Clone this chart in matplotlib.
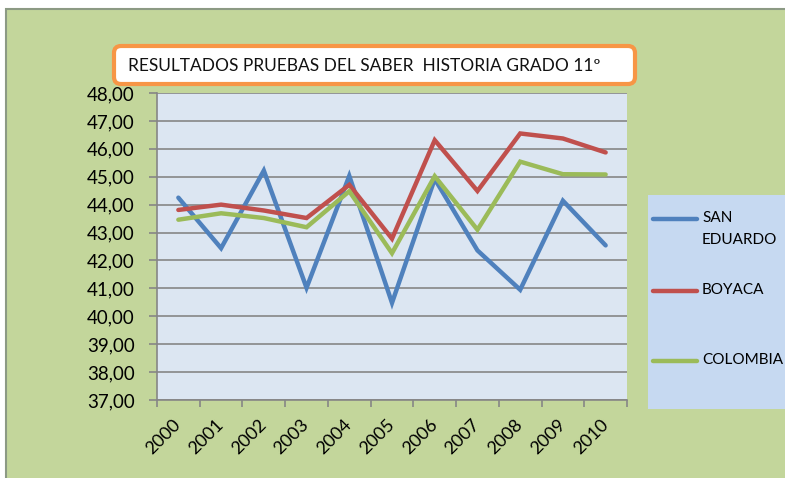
import matplotlib.pyplot as plt
from matplotlib.patches import FancyBboxPatch, Rectangle

# Data
years = ['2000', '2001', '2002', '2003', '2004', '2005', '2006', '2007', '2008', '2009', '2010']
san_eduardo = [44.25, 42.44, 45.22, 41.02, 45.03, 40.48, 44.92, 42.36, 40.95, 44.14, 42.54]
boyaca = [43.81, 44.00, 43.79, 43.52, 44.71, 42.78, 46.31, 44.49, 46.55, 46.37, 45.87]
colombia = [43.46, 43.69, 43.52, 43.19, 44.48, 42.26, 45.02, 43.10, 45.54, 45.09, 45.08]
series_names = ['SAN\nEDUARDO', 'BOYACA', 'COLOMBIA']
colors = ['#4F81BD', '#C0504D', '#9BBB59']

plt.rcParams['font.family'] = ['Lato', 'DejaVu Sans']

W, H = 785, 478
fig = plt.figure(figsize=(W / 100, H / 100), dpi=100)
fig.patch.set_facecolor('white')

# background overlay in pixel coords (chart frame)
bg = fig.add_axes([0, 0, 1, 1], zorder=0)
bg.set_xlim(0, W)
bg.set_ylim(H, 0)
bg.axis('off')
bg.add_patch(Rectangle((6, 9), W, H, fc='#C3D69B', ec='#8C9A84', lw=1.5))

# main plot area (pixel box 157..627 x 93..400)
ax = fig.add_axes([157 / W, 1 - 400 / H, 470 / W, 307 / H], zorder=1)
ax.set_facecolor('#DCE6F2')
x = list(range(len(years)))
for vals, c in zip([san_eduardo, boyaca, colombia], colors):
    ax.plot(x, vals, color=c, lw=3.2, solid_capstyle='round', solid_joinstyle='miter', zorder=3)

ax.set_xlim(-0.5, len(years) - 0.5)
ax.set_ylim(37, 48)
ax.set_yticks(range(37, 49))
ax.set_yticklabels([f'{v},00' for v in range(37, 49)], fontsize=13.5)
ax.set_xticks(x)
ax.set_xticklabels(years, rotation=45, fontsize=13, ha='right', va='center',
                   rotation_mode='anchor')
ax.set_xticks([i - 0.5 for i in range(len(years) + 1)], minor=True)
ax.tick_params(axis='x', which='major', length=0, pad=16)
ax.tick_params(axis='x', which='minor', length=5, color='#868686', width=1.2)
ax.tick_params(axis='y', length=6, color='#868686', width=1.2, pad=10)
ax.grid(axis='y', color='#868686', lw=1.2, zorder=1)
ax.set_axisbelow(True)
for s in ['top', 'right']:
    ax.spines[s].set_visible(False)
for s in ['left', 'bottom']:
    ax.spines[s].set_color('#868686')
    ax.spines[s].set_linewidth(1.2)

# overlay in pixel coords for title box and legend
deco = fig.add_axes([0, 0, 1, 1], zorder=2)
deco.set_xlim(0, W)
deco.set_ylim(H, 0)
deco.axis('off')

title_box = FancyBboxPatch((114, 46), 521, 38, boxstyle='round,pad=0,rounding_size=7',
                           fc='white', ec='#F79646', lw=3)
deco.add_patch(title_box)
deco.text(128, 66, 'RESULTADOS PRUEBAS DEL SABER  HISTORIA GRADO 11º', fontsize=12.5,
          va='center', ha='left', color='#111111')

deco.add_patch(Rectangle((648, 195), 140, 214, fc='#C6D9F1', ec='none'))
leg_y = [219, 291, 361]
for name, c, ly in zip(series_names, colors, leg_y):
    deco.plot([653, 697], [ly, ly], color=c, lw=3.2, solid_capstyle='round')
    deco.text(702, ly - 8, name, fontsize=11, va='top', ha='left', linespacing=1.75)

plt.savefig('out.png', dpi=100, facecolor=fig.get_facecolor())
